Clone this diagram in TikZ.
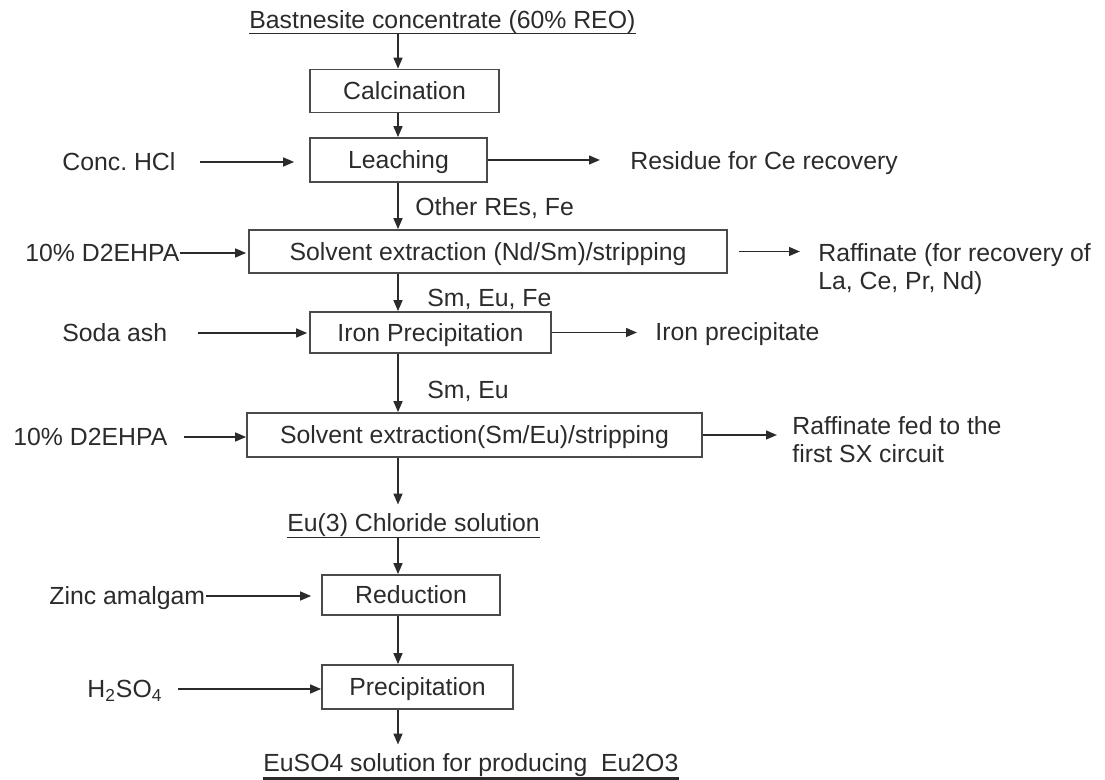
\documentclass[tikz,border=0pt]{standalone}
\usepackage{fontspec}
\setmainfont{Liberation Sans}
\usepackage{xcolor}
\usepackage{tikz}
\usetikzlibrary{arrows.meta,positioning}
\definecolor{flowink}{HTML}{2B2B2B}
\definecolor{flowedge}{HTML}{4A4A4A}

\begin{document}
\begin{tikzpicture}[
  x=0.5pt,y=-0.5pt,
  every node/.style={font=\fontsize{12.4}{14}\selectfont,text=flowink},
  unit/.style={draw=flowedge,line width=0.8pt,inner sep=0pt,minimum height=21.5pt,text height=8.8pt,text depth=0pt},
  stream/.style={inner sep=0pt,text height=8.8pt,text depth=0pt,anchor=west},
  outlet/.style={inner sep=0pt,align=left,anchor=north west},
  heading/.style={inner sep=0pt,anchor=base west,text depth=2pt},
  rule/.style={draw=flowink,line width=0.8pt},
  arr/.style={-{Triangle[length=5.5pt,width=4.4pt]},line width=0.95pt,draw=flowink}
]
\useasboundingbox (0,0) rectangle (1105,780);
\coordinate (spine) at (398,0);

\node[heading] (feed) at (249,29) {Bastnesite concentrate (60\% REO)};
\node[unit,minimum width=94.5pt] (calcination) at (404.5,91) {Calcination};
\node[unit,minimum width=88.5pt,minimum height=22pt] (leaching) at (398.5,160) {Leaching};
\node[unit,minimum width=239pt] (sxone) at (488,251.5) {Solvent extraction (Nd/Sm)/stripping};
\node[unit,minimum width=120.5pt,minimum height=20.5pt] (ironppt) at (430.5,332.5) {Iron Precipitation};
\node[unit,minimum width=227.5pt,minimum height=22pt] (sxtwo) at (474.5,435) {Solvent extraction(Sm/Eu)/stripping};
\node[heading,text depth=2.5pt] (euchloride) at (287,532) {Eu(3) Chloride solution};
\node[unit,minimum width=89pt,minimum height=20pt] (reduction) at (411,595) {Reduction};
\node[unit,minimum width=95.5pt,minimum height=22pt] (precipitation) at (417.5,687) {Precipitation};
\node[heading,text depth=3pt] (product) at (263,772) {EuSO4 solution for producing\ \ Eu2O3};

\node[stream] (hcl) at (62,162) {Conc.\ HCl};
\node[stream] (dehpaone) at (25,253) {10\% D2EHPA};
\node[stream] (sodaash) at (62,333) {Soda ash};
\node[stream] (dehpatwo) at (13,437) {10\% D2EHPA};
\node[stream] (zinc) at (49,596) {Zinc amalgam};
\node[stream] (acid) at (87,689) {H\textsubscript{2}SO\textsubscript{4}};

\node[stream] (otherres) at (415,207) {Other REs, Fe};
\node[stream] (smeufe) at (427,298) {Sm, Eu, Fe};
\node[stream] (smeu) at (427,390) {Sm, Eu};

\node[stream] (residue) at (630,161) {Residue for Ce recovery};
\node[outlet] (raffone) at (818,243) {Raffinate (for recovery of\\La, Ce, Pr, Nd)};
\node[stream] (ironout) at (655,332) {Iron precipitate};
\node[outlet] (rafftwo) at (792,416) {Raffinate fed to the\\first SX circuit};

\draw[rule] (feed.south west) -- (feed.south east);
\draw[rule] (euchloride.south west) -- (euchloride.south east);
\draw[rule,line width=1.5pt] (product.south west) -- (product.south east);

\draw[arr] (feed.south -| spine) -- (calcination.north -| spine);
\draw[arr] (calcination.south -| spine) -- (leaching.north -| spine);
\draw[arr] (leaching.south -| spine) -- (sxone.north -| spine);
\draw[arr] (sxone.south -| spine) -- (ironppt.north -| spine);
\draw[arr] (ironppt.south -| spine) -- (sxtwo.north -| spine);
\draw[arr,shorten >=4.5pt] (sxtwo.south -| spine) -- (euchloride.north -| spine);
\draw[arr] (euchloride.south -| spine) -- (reduction.north -| spine);
\draw[arr] (reduction.south -| spine) -- (precipitation.north -| spine);
\draw[arr,shorten >=4.5pt] (precipitation.south -| spine) -- (product.north -| spine);

\draw[arr,shorten <=12pt,shorten >=7.5pt] (hcl.east) -- (hcl.east -| leaching.west);
\draw[arr,shorten >=1pt] (dehpaone.east) -- (dehpaone.east -| sxone.west);
\draw[arr,shorten <=15pt,shorten >=1pt] (sodaash.east) -- (sodaash.east -| ironppt.west);
\draw[arr,shorten <=8pt] (dehpatwo.east) -- (dehpatwo.east -| sxtwo.west);
\draw[arr,shorten >=5pt] (zinc.east) -- (zinc.east -| reduction.west);
\draw[arr,shorten <=7.5pt] (acid.east) -- (acid.east -| precipitation.west);

\draw[arr,shorten >=15pt] (leaching.east) -- (leaching.east -| residue.west);
\draw[arr,shorten <=5.5pt,shorten >=9pt] (sxone.east) -- (sxone.east -| raffone.west);
\draw[arr,shorten >=9pt] (ironppt.east) -- (ironppt.east -| ironout.west);
\draw[arr,shorten >=7.5pt] (sxtwo.east) -- (sxtwo.east -| rafftwo.west);
\end{tikzpicture}
\end{document}
